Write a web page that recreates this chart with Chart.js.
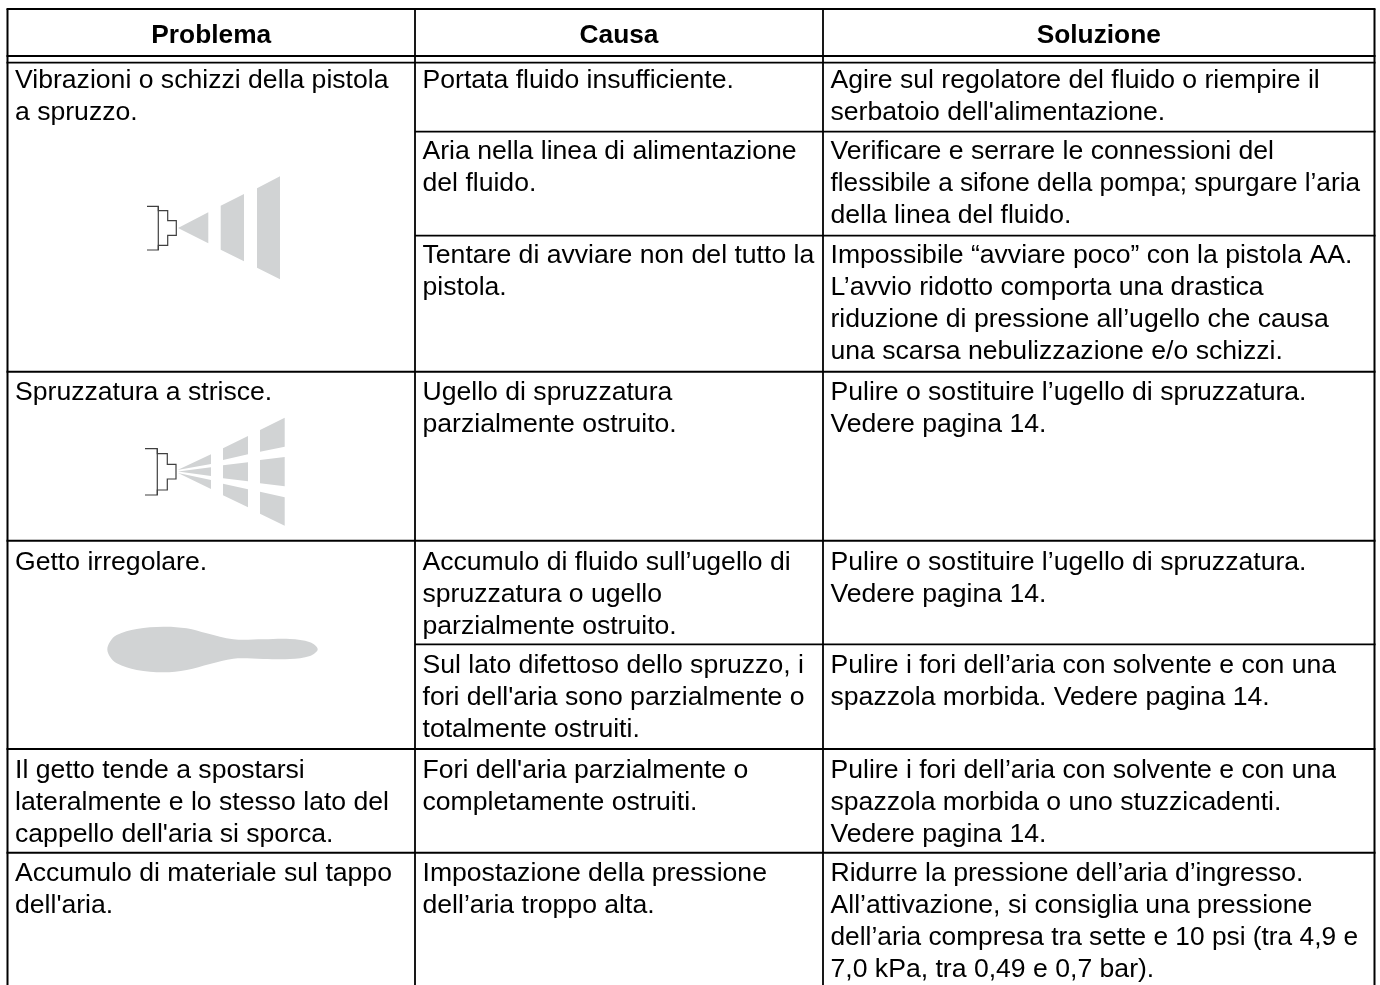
<!DOCTYPE html>
<html lang="it"><head><meta charset="utf-8">
<style>html,body{margin:0;padding:0;background:#fff;overflow:hidden}#wrap{position:absolute;left:0;top:0;width:1380px;height:985px}</style>
<script src="https://cdn.jsdelivr.net/npm/chart.js@4/dist/chart.umd.min.js"></script>
</head><body><div id="wrap"><canvas id="c" width="1380" height="985"></canvas></div>
<script>
// Table content
const headers = ["Problema", "Causa", "Soluzione"];
const problemCells = [
  ["Vibrazioni o schizzi della pistola", "a spruzzo."],
  ["Spruzzatura a strisce."],
  ["Getto irregolare."],
  ["Il getto tende a spostarsi", "lateralmente e lo stesso lato del", "cappello dell'aria si sporca."],
  ["Accumulo di materiale sul tappo", "dell'aria."]
];
const causeCells = [
  ["Portata fluido insufficiente."],
  ["Aria nella linea di alimentazione", "del fluido."],
  ["Tentare di avviare non del tutto la", "pistola."],
  ["Ugello di spruzzatura", "parzialmente ostruito."],
  ["Accumulo di fluido sull’ugello di", "spruzzatura o ugello", "parzialmente ostruito."],
  ["Sul lato difettoso dello spruzzo, i", "fori dell'aria sono parzialmente o", "totalmente ostruiti."],
  ["Fori dell'aria parzialmente o", "completamente ostruiti."],
  ["Impostazione della pressione", "dell’aria troppo alta."]
];
const solutionCells = [
  ["Agire sul regolatore del fluido o riempire il", "serbatoio dell'alimentazione."],
  ["Verificare e serrare le connessioni del", "flessibile a sifone della pompa; spurgare l’aria", "della linea del fluido."],
  ["Impossibile “avviare poco” con la pistola AA.", "L’avvio ridotto comporta una drastica", "riduzione di pressione all’ugello che causa", "una scarsa nebulizzazione e/o schizzi."],
  ["Pulire o sostituire l’ugello di spruzzatura.", "Vedere pagina 14."],
  ["Pulire o sostituire l’ugello di spruzzatura.", "Vedere pagina 14."],
  ["Pulire i fori dell’aria con solvente e con una", "spazzola morbida. Vedere pagina 14."],
  ["Pulire i fori dell’aria con solvente e con una", "spazzola morbida o uno stuzzicadenti.", "Vedere pagina 14."],
  ["Ridurre la pressione dell’aria d’ingresso.", "All’attivazione, si consiglia una pressione", "dell’aria compresa tra sette e 10 psi (tra 4,9 e", "7,0 kPa, tra 0,49 e 0,7 bar)."]
];
// Grid of the table, in scale units
const columnEdges = [7.5, 415, 823, 1374.5];
const headRules = [9, 56, 62.7];
const fullRules = [371.7, 540.7, 749, 852.7];
const partRules = [131.7, 235.6, 644.3];
const problemBaselines = [87.7, 400, 570, 777.7, 880.7];
const causeBaselines = [87.7, 159.3, 262.7, 400, 570, 673.3, 777.7, 880.7];
const lineFits = {"flessibile a sifone della pompa; spurgare l’aria": 529.5, "dell’aria compresa tra sette e 10 psi (tra 4,9 e": 527.5};
// Grey spray figures, in scale units
const fanSolid = [
  [[178,228],[208.3,212.3],[208.3,243.3]],
  [[220.7,205.7],[244,194],[244,261.3],[220.7,249.7]],
  [[257,188.3],[280,176.3],[280,279.3],[257,267.7]]
];
const fanStriped = [
  [[177.5,470],[211,454.3],[211,464]],
  [[178,471.5],[211,467.3],[211,476]],
  [[178,473],[211,480],[211,489]],
  [[223,448.3],[248,436],[248,454.3],[223,460]],
  [[223,465.3],[248,462.3],[248,481.3],[223,478.3]],
  [[223,483.7],[248,489.3],[248,507.3],[223,495.3]],
  [[260,430],[284.7,417.7],[284.7,446.7],[260,451.7]],
  [[260,460],[284.7,457],[284.7,486.3],[260,483.3]],
  [[260,491.7],[284.7,497.3],[284.7,525.7],[260,513.7]]
];
const paddleOutline = [[263.3,639.3],[290,639],[310,642.3],[317.7,649.3],[310,656],[290,659],[263.3,659],[233.3,658.7],[210,664],[186.7,670],[163.3,672.3],[136.7,670],[116.7,663.3],[110,656.7],[107.3,649.3],[110,641.7],[116.7,635],[136.7,629],[163.3,626.7],[186.7,628.3],[206.7,633.3],[233.3,639.3]];
const nozzleA = [[147,206.3],[158.3,206.3],[158.3,210.7],[167.7,210.7],[167.7,220.7],[176.3,220.7],[176.3,235.3],[167.7,235.3],[167.7,245.3],[158.3,245.3],[158.3,250],[147,250]];
const nozzleASpine = [[158.3,206.3],[158.3,250]];
const nozzleB = [[145,448.7],[157.3,448.7],[157.3,453.7],[167.3,453.7],[167.3,464.3],[176,464.3],[176,479],[167.3,479],[167.3,490],[157.3,490],[157.3,495],[145,495]];
const nozzleBSpine = [[157.3,448.7],[157.3,495]];

const pts = a => a.map(p => ({x:p[0], y:p[1]}));
const rule = (pairs, w) => ({type:'scatter', showLine:true, data:pairs, borderColor:'#000', borderWidth:w, pointRadius:0, fill:false, tension:0, borderCapStyle:'butt', clip:false});
const shape = (a, tension) => ({type:'scatter', showLine:true, data:pts(a.concat([a[0]])), borderWidth:0, borderColor:'rgba(0,0,0,0)', backgroundColor:'#d1d3d4', fill:'shape', pointRadius:0, tension:tension||0, clip:false});
const stroke = a => ({type:'scatter', showLine:true, data:pts(a), borderColor:'#404040', borderWidth:1.2, pointRadius:0, fill:false, tension:0});

const datasets = [];
fanSolid.concat(fanStriped).forEach(a => datasets.push(shape(a)));
datasets.push(shape(paddleOutline, 0.35));
[nozzleA, nozzleASpine, nozzleB, nozzleBSpine].forEach(a => datasets.push(stroke(a)));
const L = columnEdges[0]-1, R = columnEdges[3]+1;
headRules.forEach((y,i) => datasets.push(rule([{x:L,y},{x:R,y}], i===2?1.7:2)));
fullRules.forEach(y => datasets.push(rule([{x:L,y},{x:R,y}], 2)));
partRules.forEach(y => datasets.push(rule([{x:columnEdges[1],y},{x:R,y}], 1.8)));
columnEdges.forEach((x,i) => datasets.push(rule([{x,y:headRules[0]},{x,y:985}], i===0||i===3?2:1.8)));

const FONT = '"Liberation Sans", Arial, sans-serif';
const SIZE = 26.6, BOLD = 26.3, LEAD = 32, PADX = 7.5, HEAD_BASE = 42.7;
const tablePlugin = {
  id:'tableText',
  afterDatasetsDraw(chart){
    const {ctx, scales:{x:sx, y:sy}} = chart;
    ctx.save();
    ctx.fillStyle = '#000';
    ctx.textBaseline = 'alphabetic';
    ctx.font = 'bold ' + BOLD + 'px ' + FONT;
    ctx.textAlign = 'center';
    headers.forEach((h,i) => ctx.fillText(h, sx.getPixelForValue((columnEdges[i]+columnEdges[i+1])/2), sy.getPixelForValue(HEAD_BASE)));
    ctx.font = SIZE + 'px ' + FONT;
    ctx.textAlign = 'left';
    const col = (cells, bases, i) => cells.forEach((lines,r) => lines.forEach((t,k) => {
      const px = sx.getPixelForValue(columnEdges[i]+PADX), py = sy.getPixelForValue(bases[r]+k*LEAD);
      if (lineFits[t]) ctx.fillText(t, px, py, lineFits[t]); else ctx.fillText(t, px, py);
    }));
    col(problemCells, problemBaselines, 0);
    col(causeCells, causeBaselines, 1);
    col(solutionCells, causeBaselines, 2);
    ctx.restore();
  }
};
new Chart(document.getElementById('c'), {
  type:'scatter',
  data:{datasets},
  plugins:[tablePlugin],
  options:{
    responsive:false, animation:false, events:[],
    layout:{padding:0},
    plugins:{legend:{display:false}, tooltip:{enabled:false}, title:{display:false}},
    scales:{
      x:{type:'linear', min:0, max:1380, display:false},
      y:{type:'linear', min:0, max:985, reverse:true, display:false}
    }
  }
});
</script></body></html>
